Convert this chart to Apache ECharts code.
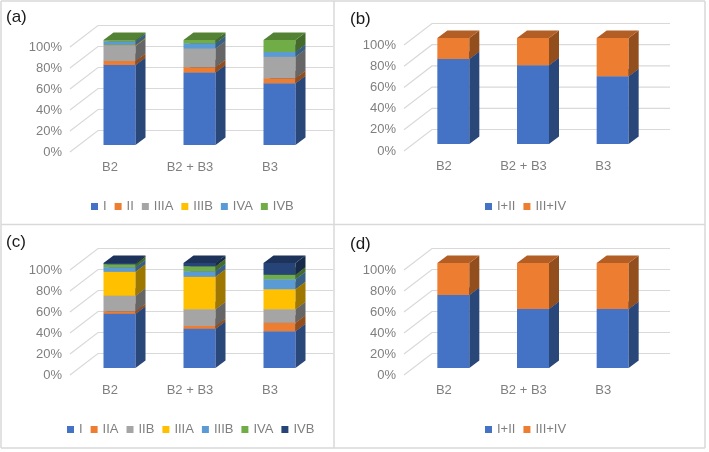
<!DOCTYPE html>
<html>
<head>
<meta charset="utf-8">
<script src="https://cdn.jsdelivr.net/npm/echarts@6/dist/echarts.min.js"></script>
<style>
  html, body { margin: 0; padding: 0; background: #fff; }
  #chart { width: 709px; height: 452px; }
</style>
</head>
<body>
<div id="chart"></div>
<script>
var categories = ['B2', 'B2 + B3', 'B3'];
var ticks = [0, 20, 40, 60, 80, 100];

// panel (a)
var stagesA = ['I', 'II', 'IIIA', 'IIIB', 'IVA', 'IVB'];
var valuesA = [
    [76.3, 69.0, 58.9],   // I
    [3.7, 5.0, 4.7],      // II
    [14.3, 18.0, 20.5],   // IIIA
    [0.8, 0, 0],          // IIIB
    [3.6, 5.0, 4.5],      // IVA
    [1.3, 3.0, 11.4]      // IVB
];
// panel (b)
var stagesB = ['I+II', 'III+IV'];
var valuesB = [
    [80.3, 74.3, 64.0],
    [19.7, 25.7, 36.0]
];
// panel (c)
var stagesC = ['I', 'IIA', 'IIB', 'IIIA', 'IIIB', 'IVA', 'IVB'];
var valuesC = [
    [51.7, 37.4, 34.9],   // I
    [2.3, 2.6, 8.3],      // IIA
    [14.9, 15.9, 12.7],   // IIB
    [22.8, 31.1, 19.1],   // IIIA
    [4.2, 5.1, 9.5],      // IIIB
    [2.9, 4.8, 4.4],      // IVA
    [1.2, 3.1, 11.1]      // IVB
];
// panel (d)
var stagesD = ['I+II', 'III+IV'];
var valuesD = [
    [69.5, 56.2, 56.2],
    [30.5, 43.8, 43.8]
];

var colorsA = ['#4472C4', '#ED7D31', '#A5A5A5', '#FFC000', '#5B9BD5', '#70AD47'];
var colorsB = ['#4472C4', '#ED7D31'];
var colorsC = ['#4472C4', '#ED7D31', '#A5A5A5', '#FFC000', '#5B9BD5', '#70AD47', '#264478'];

var FONT = 'Liberation Sans';
var DEPTH = [28, -21.5];              // floor depth, front to back wall
var FRONT = [9.5, -7];                // bar front face offset
var BAR_D = [10, -7.5];               // bar depth
var BAR_W = 32;

var panels = [
    {name: '(a)', grid: {left: 70, top: 47, width: 240, height: 105}, stages: stagesA, values: valuesA, colors: colorsA, title: [6, 9], legend: [86, 195], wallEnd: 333},
    {name: '(b)', grid: {left: 404, top: 45, width: 239, height: 106}, stages: stagesB, values: valuesB, colors: colorsB, title: [350, 11], legend: [480, 195], wallEnd: 670},
    {name: '(c)', grid: {left: 70, top: 270, width: 240, height: 105}, stages: stagesC, values: valuesC, colors: colorsC, title: [6, 234], legend: [62, 418], wallEnd: 333},
    {name: '(d)', grid: {left: 404, top: 270, width: 239, height: 105}, stages: stagesD, values: valuesD, colors: colorsB, title: [350, 236], legend: [480, 418], wallEnd: 670}
];

function darken(c, k) {
    var rgb = echarts.color.parse(c);
    return 'rgb(' + Math.round(rgb[0] * k) + ',' + Math.round(rgb[1] * k) + ',' + Math.round(rgb[2] * k) + ')';
}

function barItem(params, api) {
    if (api.value(2) - api.value(1) <= 0) return;
    var c0 = api.coord([api.value(0), api.value(1)]);
    var c1 = api.coord([api.value(0), api.value(2)]);
    var col = api.visual('color');
    var x0 = c0[0] + FRONT[0] - BAR_W / 2;
    var x1 = x0 + BAR_W;
    var yb = c0[1] + FRONT[1];
    var yt = c1[1] + FRONT[1];
    return {
        type: 'group',
        children: [
            {type: 'rect', shape: {x: x0, y: yt, width: BAR_W, height: yb - yt}, style: {fill: col}},
            {type: 'polygon', shape: {points: [[x1, yb], [x1 + BAR_D[0], yb + BAR_D[1]], [x1 + BAR_D[0], yt + BAR_D[1]], [x1, yt]]}, style: {fill: darken(col, 0.62)}},
            {type: 'polygon', shape: {points: [[x0, yt], [x1, yt], [x1 + BAR_D[0], yt + BAR_D[1]], [x0 + BAR_D[0], yt + BAR_D[1]]]}, style: {fill: darken(col, 0.75)}}
        ]
    };
}

var grids = [], xAxes = [], yAxes = [], series = [], legends = [], graphics = [];

panels.forEach(function (p, pi) {
    grids.push(p.grid);
    xAxes.push({
        type: 'category', gridIndex: pi, data: categories,
        axisLine: {show: false}, axisTick: {show: false},
        axisLabel: {color: '#7f7f7f', fontFamily: FONT, fontSize: 13, margin: 9}
    });
    yAxes.push({
        type: 'value', gridIndex: pi, min: 0, max: 100, interval: 20,
        axisLine: {show: false}, axisTick: {show: false}, splitLine: {show: false},
        axisLabel: {formatter: '{value}%', color: '#7f7f7f', fontFamily: FONT, fontSize: 13, margin: 8}
    });

    // floor/back wall gridlines
    series.push({
        type: 'custom', xAxisIndex: pi, yAxisIndex: pi, silent: true, z: 1,
        data: ticks.map(function (t) { return [0, t]; }),
        encode: {x: 0, y: 1},
        renderItem: (function (wallEnd) {
            return function (params, api) {
                var cs = params.coordSys;
                var y = api.coord([0, api.value(1)])[1];
                var xb = cs.x + DEPTH[0];
                var yb = y + DEPTH[1];
                return {
                    type: 'polyline',
                    shape: {points: [[cs.x, y], [xb, yb], [wallEnd, yb]]},
                    style: {stroke: '#d9d9d9', lineWidth: 1.2, fill: null}
                };
            };
        })(p.wallEnd)
    });

    var base = categories.map(function () { return 0; });
    p.stages.forEach(function (st, si) {
        var data = p.values[si].map(function (v, ci) {
            var item = [ci, base[ci], base[ci] + v];
            base[ci] += v;
            return item;
        });
        series.push({
            name: st, type: 'custom', xAxisIndex: pi, yAxisIndex: pi, z: 2,
            itemStyle: {color: p.colors[si]},
            data: data,
            encode: {x: 0, y: [1, 2]},
            renderItem: barItem
        });
    });

    legends.push({
        data: p.stages.map(function (st, si) {
            return {name: st, itemStyle: {color: p.colors[si]}};
        }),
        left: p.legend[0], top: p.legend[1],
        icon: 'rect', itemWidth: 7, itemHeight: 7, itemGap: 8,
        selectedMode: false,
        textStyle: {color: '#7f7f7f', fontFamily: FONT, fontSize: 13}
    });

    graphics.push({
        type: 'text', left: p.title[0], top: p.title[1],
        style: {text: p.name, fill: '#1a1a1a', font: '17px ' + FONT}
    });
});

// panel borders
var borderStyle = {stroke: '#d9d9d9', lineWidth: 1.5};
[[1, 1, 705, 1], [1, 448, 705, 448], [1, 1, 1, 448], [705, 1, 705, 448], [334, 1, 334, 448], [1, 224.5, 705, 224.5]].forEach(function (l) {
    graphics.push({type: 'line', shape: {x1: l[0], y1: l[1], x2: l[2], y2: l[3]}, style: borderStyle, silent: true});
});

var chart = echarts.init(document.getElementById('chart'));
chart.setOption({
    animation: false,
    grid: grids,
    xAxis: xAxes,
    yAxis: yAxes,
    legend: legends,
    graphic: graphics,
    series: series
});
</script>
</body>
</html>
